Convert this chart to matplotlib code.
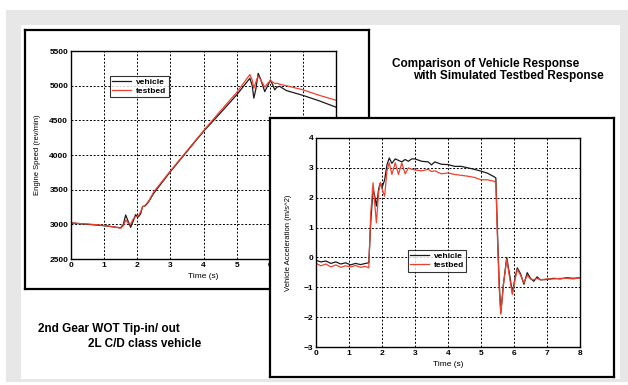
import numpy as np
import matplotlib.pyplot as plt
from matplotlib.patches import Rectangle

plt.rcParams['font.family'] = ['Liberation Sans', 'DejaVu Sans']
plt.rcParams['font.weight'] = 'bold'

# engine speed, 2nd gear WOT tip-in/out
t_rpm = [0, 0.5, 1.0, 1.5, 1.58, 1.65, 1.72, 1.8, 1.88, 1.95,
         2.03, 2.1, 2.16, 2.25, 2.35, 2.5, 3.0, 3.5, 4.0, 4.5,
         5.0, 5.4, 5.47, 5.52, 5.58, 5.65, 5.72, 5.85, 5.95, 6.02,
         6.1, 6.15, 6.22, 6.3, 6.4, 6.5, 7.0, 7.5, 8.0]
rpm_vehicle = [3020, 3000, 2980, 2950, 3000, 3135, 3050, 2957, 3050, 3140,
               3105, 3150, 3255, 3270, 3330, 3450, 3760, 4050, 4340, 4600,
               4866, 5107, 5000, 4820, 4950, 5178, 5100, 4914, 5010, 5083,
               5000, 4940, 4980, 4990, 4960, 4930, 4860, 4780, 4690]
rpm_testbed = [3020, 3005, 2985, 2945, 2980, 3060, 3020, 3000, 3080, 3110,
               3120, 3180, 3250, 3280, 3340, 3470, 3770, 4060, 4350, 4630,
               4900, 5160, 5080, 4963, 5050, 5140, 5090, 4980, 5040, 5070,
               5050, 5030, 5035, 5020, 5010, 5000, 4940, 4860, 4790]

# vehicle acceleration
t_acc = [0, 0.15, 0.3, 0.45, 0.6, 0.75, 0.9, 1.05, 1.2, 1.35,
         1.5, 1.6, 1.66, 1.73, 1.78, 1.83, 1.9, 1.95, 2.0, 2.08,
         2.15, 2.22, 2.3, 2.4, 2.5, 2.6, 2.7, 2.8, 2.9, 3.0,
         3.2, 3.4, 3.5, 3.6, 3.8, 4.0, 4.2, 4.4, 4.6, 4.8,
         5.0, 5.2, 5.4, 5.45, 5.5, 5.55, 5.6, 5.68, 5.78, 5.87,
         5.95, 6.03, 6.1, 6.2, 6.3, 6.4, 6.5, 6.6, 6.7, 6.8,
         7.0, 7.2, 7.4, 7.6, 7.8, 8.0]
acc_vehicle = [-0.1, -0.15, -0.12, -0.2, -0.15, -0.22, -0.18, -0.25, -0.2, -0.24,
               -0.2, -0.18, 1.2, 2.3, 2.05, 1.72, 2.3, 2.5, 2.33, 2.6,
               3.1, 3.33, 3.15, 3.3, 3.25, 3.2, 3.28, 3.22, 3.3, 3.3,
               3.22, 3.2, 3.1, 3.2, 3.12, 3.11, 3.05, 3.05, 3.0, 2.95,
               2.89, 2.82, 2.7, 2.66, 0.82, -0.8, -1.85, -0.9, 0.0, -0.6,
               -1.18, -0.7, -0.35, -0.55, -0.9, -0.51, -0.7, -0.8, -0.65, -0.75,
               -0.74, -0.7, -0.72, -0.68, -0.7, -0.68]
acc_testbed = [-0.2, -0.28, -0.22, -0.32, -0.25, -0.33, -0.28, -0.32, -0.27, -0.33,
               -0.3, -0.35, 1.5, 2.5, 1.8, 1.16, 2.2, 2.5, 2.3, 2.05,
               2.9, 3.17, 2.78, 3.17, 2.78, 3.17, 2.8, 3.0, 2.95, 2.93,
               2.9, 2.95, 2.88, 2.9, 2.8, 2.83, 2.78, 2.75, 2.72, 2.68,
               2.6, 2.6, 2.55, 2.5, 0.6, -1.0, -1.9, -0.9, -0.06, -0.7,
               -1.24, -0.75, -0.4, -0.6, -0.85, -0.6, -0.72, -0.75, -0.7, -0.75,
               -0.72, -0.72, -0.7, -0.7, -0.72, -0.68]

W, H = 628, 385
BLACK = '#1a1a1a'
RED = '#f0402c'


def box(x0, y0, x1, y1):
    # pixel box (from top-left) -> figure fraction rect
    return [x0 / W, 1 - y1 / H, (x1 - x0) / W, (y1 - y0) / H]


def panel(rect, z):
    a = fig.add_axes(rect, zorder=z)
    a.set_xticks([])
    a.set_yticks([])
    for s in a.spines.values():
        s.set_linewidth(1.6)
        s.set_color('black')
    return a


def style(ax):
    ax.grid(True, color='black', linestyle=(0, (2.0, 1.8)), linewidth=0.7)
    ax.tick_params(length=0, pad=2, labelsize=6)
    for s in ax.spines.values():
        s.set_linewidth(1.0)
    ax.set_xlabel('Time (s)', fontsize=6, labelpad=3)


fig = plt.figure(figsize=(W / 100, H / 100), dpi=100)
fig.patches.append(Rectangle((6 / W, 1 - 382 / H), 622 / W, 372 / H,
                             transform=fig.transFigure, facecolor='#e6e7e6',
                             edgecolor='none', zorder=-3))
fig.patches.append(Rectangle((21 / W, 1 - 379 / H), 599 / W, 354 / H,
                             transform=fig.transFigure, facecolor='white',
                             edgecolor='none', zorder=-2))

panel(box(25, 30, 369, 289), 1)
ax1 = fig.add_axes(box(71, 51, 336, 259), zorder=2)
ax1.plot(t_rpm, rpm_vehicle, color=BLACK, lw=0.9, label='vehicle')
ax1.plot(t_rpm, rpm_testbed, color=RED, lw=0.9, label='testbed')
ax1.set_xlim(0, 8)
ax1.set_ylim(2500, 5500)
ax1.set_xticks(range(0, 9))
ax1.set_yticks(range(2500, 5501, 500))
style(ax1)
ax1.set_ylabel('Engine Speed (rev/min)', fontsize=5.5, labelpad=6)
leg = ax1.legend(loc='upper left', bbox_to_anchor=(0.147, 0.88), borderaxespad=0,
                 fancybox=False, edgecolor='black', fontsize=6, handlelength=2.2,
                 borderpad=0.3, labelspacing=0.1, handletextpad=0.6)
leg.get_frame().set_linewidth(0.8)

panel(box(270, 118, 614, 377), 3)
ax2 = fig.add_axes(box(316, 138, 580, 347), zorder=4)
ax2.plot(t_acc, acc_vehicle, color=BLACK, lw=0.9, label='vehicle')
ax2.plot(t_acc, acc_testbed, color=RED, lw=0.9, label='testbed')
ax2.set_xlim(0, 8)
ax2.set_ylim(-3, 4)
ax2.set_xticks(range(0, 9))
ax2.set_yticks(range(-3, 5))
style(ax2)
ax2.set_ylabel('Vehicle Acceleration (m/s^2)', fontsize=5.5, labelpad=8)
leg = ax2.legend(loc='upper left', bbox_to_anchor=(0.348, 0.464), borderaxespad=0,
                 fancybox=False, edgecolor='black', fontsize=6, handlelength=2.2,
                 borderpad=0.3, labelspacing=0.1, handletextpad=0.6)
leg.get_frame().set_linewidth(0.8)

fig.text(392 / W, 1 - 64 / H, 'Comparison of Vehicle Response', fontsize=8.5,
         va='center', ha='left')
fig.text(413 / W, 1 - 76 / H, 'with Simulated Testbed Response', fontsize=8.5,
         va='center', ha='left')
fig.text(38 / W, 1 - 329 / H, '2nd Gear WOT Tip-in/ out', fontsize=8.5,
         va='center', ha='left')
fig.text(88 / W, 1 - 344 / H, '2L C/D class vehicle', fontsize=8.5,
         va='center', ha='left')

plt.savefig('out.png', dpi=100)
plt.close(fig)
